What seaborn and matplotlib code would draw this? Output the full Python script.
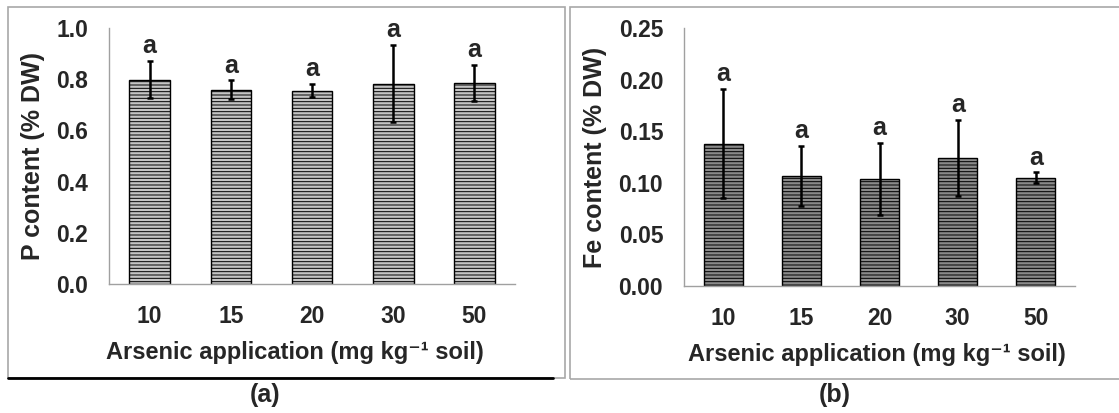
import numpy as np
import pandas as pd
import matplotlib
matplotlib.use('Agg')
import matplotlib.pyplot as plt
from matplotlib.patches import Rectangle
from matplotlib.lines import Line2D
import seaborn as sns

# Data
doses = ['10', '15', '20', '30', '50']
p_mean = [0.798, 0.758, 0.755, 0.783, 0.785]
p_sd = [0.073, 0.037, 0.026, 0.152, 0.070]
fe_mean = [0.138, 0.107, 0.104, 0.124, 0.105]
fe_sd = [0.053, 0.029, 0.035, 0.037, 0.005]
p_letters = ['a', 'a', 'a', 'a', 'a']
fe_letters = ['a', 'a', 'a', 'a', 'a']

sns.set_style("white")
plt.rcParams['font.family'] = ['Liberation Sans', 'DejaVu Sans']
plt.rcParams['font.weight'] = 'bold'
plt.rcParams['hatch.linewidth'] = 0.7

fig = plt.figure(figsize=(11.19, 4.13), dpi=100)

# panel frames
fig.add_artist(Rectangle((8 / 1119, 1 - 378 / 413), 557 / 1119, 371 / 413, transform=fig.transFigure,
                         fill=False, edgecolor='#a8a8a8', linewidth=1.2))
fig.add_artist(Rectangle((570 / 1119, 1 - 379 / 413), 560 / 1119, 372 / 413, transform=fig.transFigure,
                         fill=False, edgecolor='#a8a8a8', linewidth=1.2))
fig.add_artist(Line2D([8 / 1119, 553 / 1119], [1 - 378 / 413] * 2, transform=fig.transFigure,
                      color='black', linewidth=2))

ax1 = fig.add_axes([109 / 1119, 1 - 284 / 413, 406 / 1119, 256 / 413])
ax2 = fig.add_axes([684 / 1119, 1 - 286 / 413, 391 / 1119, 258 / 413])


def draw_panel(ax, mean, sd, letters, face, ylim, yticks, fmt, ylabel, off, xlab_x):
    df = pd.DataFrame({'dose': doses, 'val': mean})
    sns.barplot(data=df, x='dose', y='val', ax=ax, width=0.5, color=face,
                edgecolor='black', linewidth=1.0, hatch='-----', errorbar=None,
                saturation=1)
    ax.errorbar(range(len(doses)), mean, yerr=sd, fmt='none', ecolor='black',
                elinewidth=1.8, capsize=2.5, capthick=1.8)
    for i, (m, s, l) in enumerate(zip(mean, sd, letters)):
        ax.annotate(l, (i, m + s), xytext=(0, off), textcoords='offset points',
                    ha='center', va='bottom', fontsize=18, fontweight='bold')
    ax.set_xlim(-0.5, len(doses) - 0.5)
    ax.set_ylim(*ylim)
    ax.set_yticks(yticks)
    ax.set_yticklabels([fmt.format(t) for t in yticks], fontsize=16.5, fontweight='bold')
    ax.set_xticks(range(len(doses)))
    ax.set_xticklabels(doses, fontsize=16.5, fontweight='bold')
    ax.set_xticks(np.arange(-0.5, len(doses)), minor=True)
    ax.tick_params(axis='x', which='major', length=0, pad=15)
    ax.tick_params(axis='x', which='minor', length=5, color='#a0a0a0', width=1, direction='out')
    ax.tick_params(axis='y', length=5, color='#a0a0a0', width=1, direction='out', pad=10)
    for s in ['top', 'right']:
        ax.spines[s].set_visible(False)
    for s in ['left', 'bottom']:
        ax.spines[s].set_color('#a0a0a0')
        ax.spines[s].set_linewidth(1)
    ax.set_xlabel('Arsenic application (mg kg\u207b\u00b9 soil)', fontsize=17,
                  fontweight='bold')
    ax.xaxis.set_label_coords(xlab_x, -0.222)
    ax.set_ylabel(ylabel, fontsize=18, fontweight='bold', labelpad=8)
    ax.set_facecolor('none')


draw_panel(ax1, p_mean, p_sd, p_letters, '#c4c4c4', (0, 1.0),
           [0.0, 0.2, 0.4, 0.6, 0.8, 1.0], '{:.1f}', 'P content (% DW)', 2, 0.458)
draw_panel(ax2, fe_mean, fe_sd, fe_letters, '#8a8a8a', (0, 0.25),
           [0.0, 0.05, 0.10, 0.15, 0.20, 0.25], '{:.2f}', 'Fe content (% DW)', 2, 0.494)

fig.text(265 / 1119, 1 - 395 / 413, '(a)', ha='center', va='center', fontsize=18, fontweight='bold')
fig.text(835 / 1119, 1 - 395 / 413, '(b)', ha='center', va='center', fontsize=18, fontweight='bold')

plt.savefig('out.png', dpi=100)
